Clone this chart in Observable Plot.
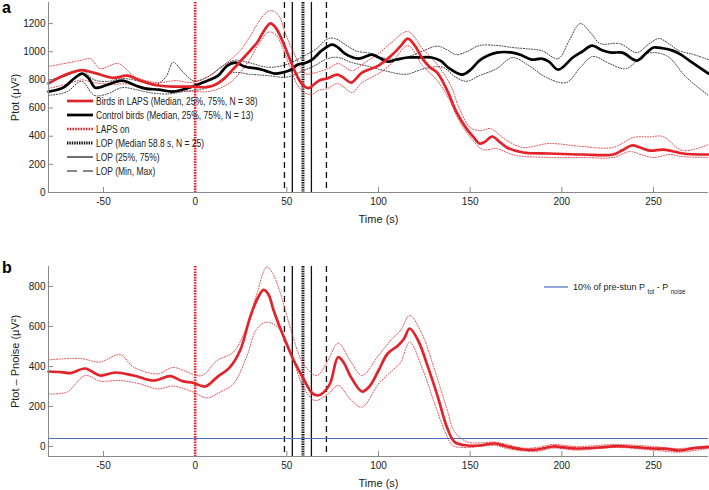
<!DOCTYPE html>
<html><head><meta charset="utf-8">
<script src="https://cdn.jsdelivr.net/npm/d3@7"></script>
<script src="https://cdn.jsdelivr.net/npm/@observablehq/plot@0.6"></script>
<style>
body{margin:0;background:#fff;}
#wrap{position:relative;width:709px;height:490px;overflow:hidden;}
.panel{position:absolute;left:0;}
.letter{position:absolute;left:2px;font:bold 16px "Liberation Sans",Arial,sans-serif;color:#000;line-height:16px;}
</style></head><body><div id="wrap"></div>
<script>
// ---------- data ----------
const xDomain = [-80, 280];
const xTicks = [-50, 0, 50, 100, 150, 200, 250];
const yDomainA = [0, 1350];
const yTicksA = [0, 200, 400, 600, 800, 1000, 1200];
const yDomainB = [-50, 900];
const yTicksB = [0, 200, 400, 600, 800];
const lapsOn = [0];
const lopMinMax = [48.7, 71.6];
const lopQuartiles = [53, 63.4];
const lopMedian = [58.8];
const threshold = [40];

// panel a : Ptot, birds in LAPS (median, 75%, 25%)
const aLapsMed = [[-80,775],[-72,830],[-62,870],[-55,850],[-45,815],[-37,830],[-30,795],[-20,760],[-10,752],[0,752],[5,748],[10,760],[15,800],[20,866],[25,937],[30,1008],[34,1070],[37,1137],[41,1202],[44,1170],[47.5,1080],[52,937],[56,817],[59,760],[62,742],[65,770],[68,798],[72,810],[77.5,838],[81,815],[85,781],[91,852],[100,902],[107,973],[112,1040],[116,1094],[120,1040],[124,951],[128,890],[132,852],[137,738],[143,560],[148,454],[152,391],[155,348],[158,360],[162,398],[166,360],[170,320],[179,284],[193,277],[211,270],[228,270],[233,300],[238,334],[243,318],[248,298],[255,305],[260,295],[266,277],[280,270]];
const aLaps75 = [[-80,895],[-70,920],[-62,940],[-57,950],[-52,880],[-42,916],[-33,824],[-21,781],[-10,795],[-3,781],[5,810],[12,866],[18,930],[24.5,1008],[30,1110],[34,1200],[38,1270],[41,1292],[44,1280],[46.5,1235],[49,1137],[54.5,973],[60,845],[65.5,852],[72.5,880],[78,916],[85.5,866],[92.6,923],[100,987],[107,1065],[116,1143],[124,1022],[132.5,902],[140,745],[143,632],[150,462],[156,440],[161,454],[170,369],[179,320],[193,348],[211,327],[228,320],[239,391],[248,395],[255,398],[266,298],[280,341]];
const aLaps25 = [[-80,740],[-70,770],[-62,800],[-55,780],[-45,770],[-35,770],[-25,740],[-15,725],[-5,720],[0,720],[5,715],[10,725],[15,750],[20,790],[25,860],[30,950],[35,1060],[40,1140],[44,1120],[48,1020],[52,880],[56,760],[60,705],[64,700],[67,724],[72,738],[77.5,774],[81,750],[85.5,710],[91,781],[100,845],[107,916],[116,1044],[124,902],[132,795],[138,675],[144,511],[151.5,369],[157,305],[164.5,312],[170,285],[175,263],[193,249],[211,249],[228,249],[237,291],[243,270],[250,249],[259,270],[266,255],[280,249]];
// panel a : control birds (median, 75%, 25%)
const aCtrlMed = [[-80,717],[-72,745],[-66,810],[-61.6,845],[-58,810],[-54.5,745],[-49,760],[-40,795],[-32.5,760],[-27,738],[-20,731],[-12.5,717],[-5,738],[0,760],[7,795],[12.5,830],[17.5,902],[22,923],[27,895],[34,880],[38,866],[43.5,845],[47.5,852],[52,870],[56,909],[60,920],[63.8,944],[69,1008],[74.7,1051],[78,1030],[81.7,987],[89,951],[96.4,980],[100,960],[105,930],[110,945],[116,959],[122,960],[129,959],[134,935],[138,888],[145.5,838],[150,870],[155,937],[160,975],[164.5,994],[173,994],[178,975],[183.5,944],[189,951],[193,930],[198,873],[206,959],[211,1000],[216.5,1044],[222,1010],[227,994],[233,994],[241,937],[246,990],[250,1030],[255,1025],[260.5,1008],[265,980],[269.6,937],[280,845]];
const aCtrl75 = [[-80,800],[-72,820],[-62,870],[-55,800],[-47,790],[-40,810],[-30,790],[-22,765],[-16,820],[-12,925],[-7,860],[-3,810],[0,790],[8,830],[15,900],[22,940],[30,920],[40,890],[50,910],[60,975],[66,1020],[72,1090],[76,1095],[82,1050],[88,1005],[95,990],[105,950],[115,960],[125,1010],[132,1040],[138,1010],[142,980],[148,1000],[155,1044],[165,1044],[173,1030],[182,1020],[189,1008],[198,951],[204,1080],[210,1200],[216,1130],[221,1058],[231.5,1058],[241,994],[247,1050],[253,1094],[258,1060],[264,1008],[272,980],[280,944]];
const aCtrl25 = [[-80,690],[-70,715],[-62,790],[-55,690],[-48,700],[-40,745],[-32,730],[-25,710],[-15,700],[-5,720],[0,725],[10,760],[20,850],[30,840],[40,830],[50,820],[58,860],[65,900],[72,950],[78,960],[85,925],[95,895],[105,860],[115,840],[125,880],[135,890],[142,820],[148,790],[155,830],[164.5,880],[173,959],[182,902],[191.6,817],[202.5,781],[210,888],[217,966],[226,916],[235,880],[246,987],[257,973],[268,817],[280,689]];
// panel b : Ptot - Pnoise, birds in LAPS (median, 75%, 25%)
const bLapsMed = [[-80,375],[-73,372],[-68,367],[-60,390],[-52,355],[-43.5,370],[-33.6,355],[-22.6,330],[-13.6,352],[-7,327],[-1,318],[5.5,300],[12,347],[19,397],[24.5,480],[30,647],[34,740],[37.3,783],[40,760],[42.8,680],[48.3,547],[53.8,430],[59,340],[63.8,267],[67,255],[70,270],[73.6,315],[78,447],[81,420],[84.5,355],[91,275],[95,300],[100,380],[105,465],[110.7,505],[114,540],[117,590],[121.6,530],[127,397],[132.4,247],[137.3,97],[141.6,22],[148.7,5],[155,5],[163.4,15],[170,0],[179,-15],[186.5,-15],[195,0],[202,-5],[208,-10],[220,-5],[230,2],[240,-3],[249.7,-10],[257,-12],[264,-20],[272,-8],[280,-3]];
const bLaps75 = [[-80,433],[-62.6,440],[-52,422],[-41,460],[-33.6,397],[-20.6,363],[-12,395],[-1.7,363],[3.8,355],[12,430],[20.8,472],[28,597],[33.6,763],[39,897],[42,870],[46,780],[51.8,597],[59,413],[66.3,355],[72.4,430],[78,517],[84.5,430],[91,355],[100,455],[107.5,540],[112,580],[117,655],[123.6,565],[130.7,380],[137,197],[141.6,72],[148.7,22],[155,18],[163.4,22],[170,10],[179,-8],[186.5,-5],[195,10],[208,0],[230,10],[249.7,0],[264,-10],[280,5]];
const bLaps25 = [[-80,263],[-70,272],[-60,355],[-52,327],[-41,330],[-30,313],[-20.6,288],[-12,302],[-1,272],[6.5,243],[13.6,272],[20.8,313],[28,447],[33.6,588],[39,622],[46,588],[51.8,480],[59,297],[65.4,230],[72.4,263],[78,305],[84.5,238],[91,197],[100,313],[107.5,380],[112,420],[117,522],[123.6,397],[130.7,213],[136,80],[140.6,5],[148.7,-5],[155,0],[163.4,5],[170,-10],[179,-22],[186.5,-25],[195,-8],[208,-18],[230,-5],[249.7,-18],[264,-28],[280,-10]];

const legendA = [
  "Birds in LAPS (Median, 25%, 75%, N = 38)",
  "Control birds (Median, 25%, 75%, N = 13)",
  "LAPS on",
  "LOP (Median 58.8 s, N = 25)",
  "LOP (25%, 75%)",
  "LOP (Min, Max)"
];

// ---------- style ----------
const RED = "#e2232a";
const BLUE = "#4d6fbf";
const AXIS = "#8a8a8a";
const FONT = '"Liberation Sans",Arial,sans-serif';

const rows = a => a.map(([t, v]) => ({t, v}));
const med = (a, color) => Plot.line(rows(a), {x: "t", y: "v", stroke: color, strokeWidth: 2.7, curve: "catmull-rom"});
const quart = (a, color, w, op) => Plot.line(rows(a), {x: "t", y: "v", stroke: color, strokeWidth: w, strokeOpacity: op, strokeDasharray: "1,1.7", curve: "catmull-rom"});
const fmt = d => String(d);

function vLines() {
  return [
    Plot.ruleX(lopMinMax, {stroke: "#111", strokeWidth: 1.3, strokeDasharray: "6,4"}),
    Plot.ruleX(lopQuartiles, {stroke: "#111", strokeWidth: 1.3}),
    Plot.ruleX(lopMedian, {stroke: "#111", strokeWidth: 3, strokeDasharray: "1.4,1"}),
    Plot.ruleX(lapsOn, {stroke: RED, strokeWidth: 2.6, strokeDasharray: "1.6,1.1"})
  ];
}
function axes(yTicks, yDom, yLabel) {
  return [
    Plot.ruleX([xDomain[0]], {stroke: AXIS, strokeWidth: 1}),
    Plot.ruleY([yDom[0]], {stroke: AXIS, strokeWidth: 1}),
    // inward tick marks
    Plot.axisX({ticks: xTicks, tickSize: 5, dy: -5, stroke: AXIS, tickFormat: () => "", label: null}),
    Plot.axisY({ticks: yTicks, tickSize: 5, dx: 5, stroke: AXIS, tickFormat: () => "", label: null}),
    // tick labels
    Plot.axisX({ticks: xTicks, tickSize: 0, tickPadding: 5, tickFormat: fmt, color: "#222", fontFamily: FONT, label: null}),
    Plot.axisY({ticks: yTicks, tickSize: 0, tickPadding: 3, tickFormat: fmt, color: "#222", fontFamily: FONT, label: null}),
    // axis titles (slightly larger)
    Plot.axisX({ticks: [], tickSize: 0, fontSize: 11, color: "#222", fontFamily: FONT, label: "Time (s)", labelAnchor: "center", labelArrow: "none", labelOffset: 30}),
    Plot.axisY({ticks: [], tickSize: 0, fontSize: 11, color: "#222", fontFamily: FONT, label: yLabel, labelAnchor: "center", labelArrow: "none", labelOffset: 37})
  ];
}

const wrap = d3.select("#wrap");

const plotA = Plot.plot({
  width: 709, height: 226, marginLeft: 48, marginRight: 1, marginTop: 2, marginBottom: 34,
  x: {domain: xDomain}, y: {domain: yDomainA},
  style: {fontFamily: FONT, fontSize: "10px", background: "white", overflow: "visible"},
  marks: [
    ...vLines(),
    quart(aCtrl75, "#333", 1, 1), quart(aCtrl25, "#333", 1, 1),
    quart(aLaps75, RED, 1, 0.85), quart(aLaps25, RED, 1, 0.85),
    med(aCtrlMed, "#000"), med(aLapsMed, RED),
    ...axes(yTicksA, yDomainA, "Ptot (μV²)")
  ]
});

const plotB = Plot.plot({
  width: 709, height: 234, marginLeft: 48, marginRight: 1, marginTop: 10, marginBottom: 34,
  x: {domain: xDomain}, y: {domain: yDomainB},
  style: {fontFamily: FONT, fontSize: "10px", background: "white", overflow: "visible"},
  marks: [
    ...vLines(),
    Plot.ruleY(threshold, {stroke: BLUE, strokeWidth: 1.2}),
    quart(bLaps75, RED, 1, 0.85), quart(bLaps25, RED, 1, 0.85),
    med(bLapsMed, RED),
    ...axes(yTicksB, yDomainB, "Ptot – Pnoise (μV²)")
  ]
});

wrap.append(() => plotA).attr("class", "panel").style("top", "0px");
wrap.append(() => plotB).attr("class", "panel").style("top", "256px");
wrap.append("div").attr("class", "letter").style("top", "0px").text("a");
wrap.append("div").attr("class", "letter").style("top", "260px").text("b");

// legend panel a
const styles = [
  {stroke: RED, w: 2.7, dash: null},
  {stroke: "#000", w: 2.7, dash: null},
  {stroke: RED, w: 2.6, dash: "1.6,1.1"},
  {stroke: "#111", w: 3, dash: "1.4,1"},
  {stroke: "#111", w: 1.2, dash: null},
  {stroke: "#111", w: 1.2, dash: "10,6"}
];
const lg = d3.select(plotA).append("g");
legendA.forEach((label, i) => {
  const y = 101 + i * 14;
  const s = styles[i];
  lg.append("line").attr("x1", 67).attr("x2", 93).attr("y1", y).attr("y2", y)
    .attr("stroke", s.stroke).attr("stroke-width", s.w).attr("stroke-dasharray", s.dash);
  lg.append("text").attr("transform", `translate(96,${y}) scale(0.85,1)`).attr("dy", "0.35em")
    .attr("text-anchor", "start").attr("font-family", FONT).attr("font-size", 10)
    .attr("fill", "#222").text(label);
});

// legend panel b
const lb = d3.select(plotB).append("g");
lb.append("line").attr("x1", 544).attr("x2", 568).attr("y1", 31).attr("y2", 31).attr("stroke", BLUE).attr("stroke-width", 1.2);
const tb = lb.append("text").attr("transform", "translate(573,31) scale(0.95,1)").attr("dy", "0.35em")
  .attr("text-anchor", "start").attr("font-family", FONT).attr("font-size", 9.5).attr("fill", "#222");
tb.append("tspan").text("10% of pre-stun  P ");
tb.append("tspan").attr("font-size", 6.5).attr("dy", 4).text("tot");
tb.append("tspan").attr("dy", -4).text(" - P ");
tb.append("tspan").attr("font-size", 6.5).attr("dy", 4).text("noise");
</script></body></html>
